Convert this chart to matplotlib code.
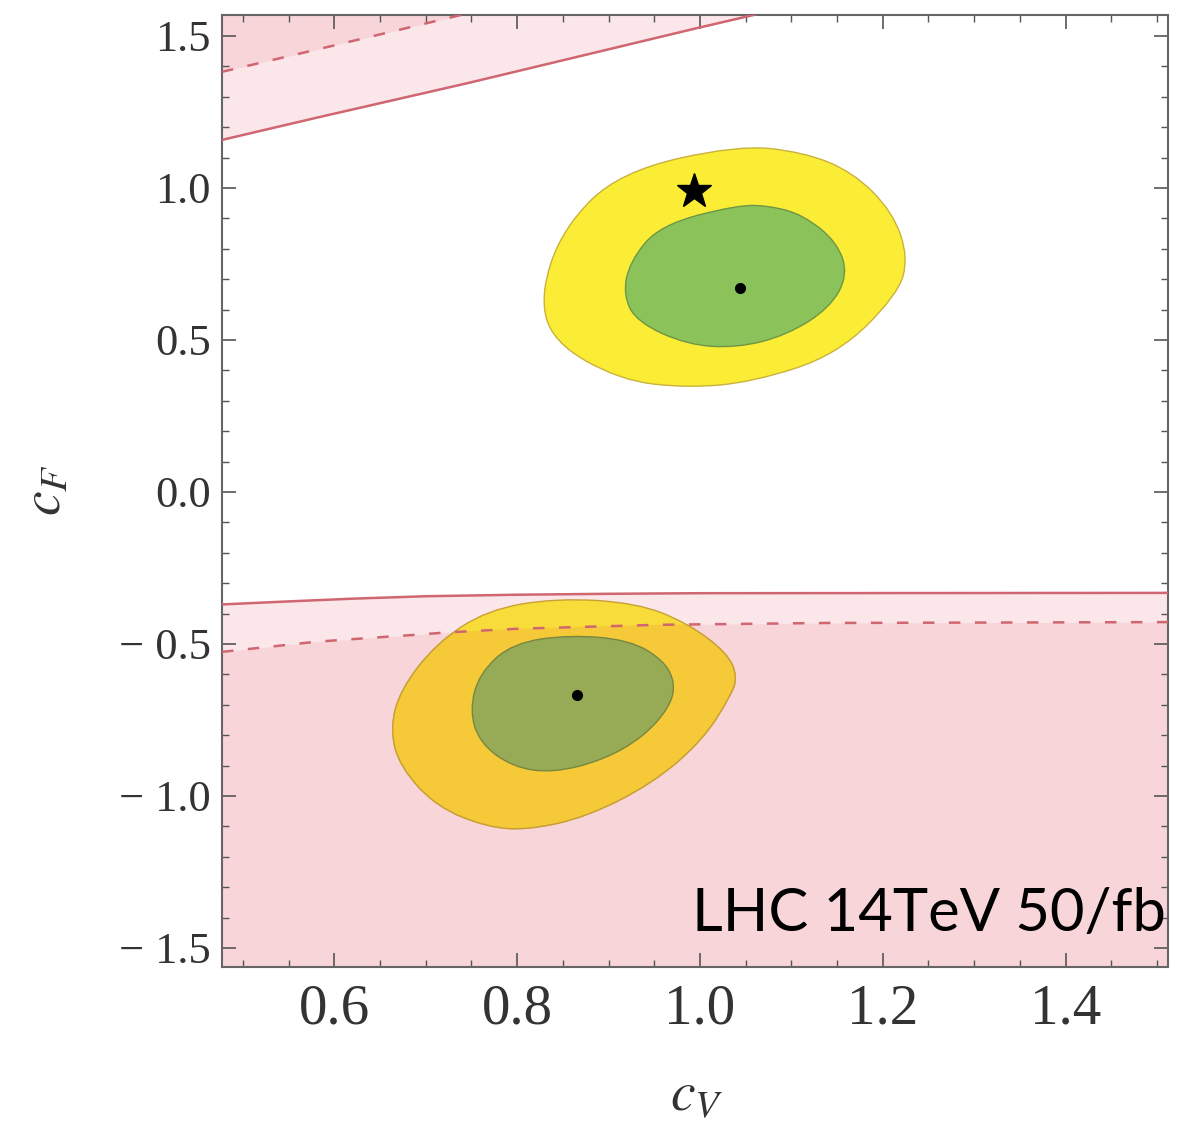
import numpy as np
import matplotlib
matplotlib.use("Agg")
import matplotlib.pyplot as plt
from matplotlib.path import Path
from matplotlib.patches import PathPatch, Polygon
from matplotlib.ticker import FixedLocator, MultipleLocator, FixedFormatter

plt.rcParams['mathtext.fontset'] = 'stix'

# --- data ---
# upper-left excluded region: solid and dashed boundaries
up_solid_x = [0.477, 0.579, 0.746, 0.997, 1.060]
up_solid_y = [1.158, 1.230, 1.345, 1.526, 1.570]
up_dash_x = [0.477, 0.579, 0.740]
up_dash_y = [1.382, 1.454, 1.570]

# lower excluded region: solid and dashed boundaries
low_solid_x = [0.477, 0.550, 0.620, 0.700, 0.800, 0.900, 1.000, 1.512]
low_solid_y = [-0.370, -0.360, -0.351, -0.343, -0.338, -0.335, -0.333, -0.332]
low_dash_x = [0.477, 0.579, 0.639, 0.688, 0.723, 0.800, 0.953, 1.135, 1.512]
low_dash_y = [-0.526, -0.493, -0.480, -0.470, -0.462, -0.450, -0.437, -0.431, -0.428]

# 2 sigma (yellow) and 1 sigma (green) contours, upper minimum
up_2s_x = [1.041, 1.113, 1.167, 1.211, 1.228, 1.216, 1.150, 1.058, 0.986, 0.912, 0.839, 0.825, 0.850, 0.912]
up_2s_y = [1.141, 1.118, 1.053, 0.921, 0.770, 0.648, 0.451, 0.362, 0.342, 0.368, 0.493, 0.648, 0.868, 1.053]
up_1s_x = [1.041, 1.077, 1.113, 1.150, 1.162, 1.142, 1.095, 1.041, 0.986, 0.931, 0.916, 0.923, 0.956]
up_1s_y = [0.944, 0.941, 0.911, 0.822, 0.714, 0.605, 0.516, 0.474, 0.484, 0.559, 0.648, 0.757, 0.878]

# lower minimum
low_2s_x = [0.843, 0.931, 0.986, 1.030, 1.041, 1.033, 1.003, 0.949, 0.876, 0.811, 0.767, 0.712, 0.672, 0.661, 0.672, 0.712, 0.767]
low_2s_y = [-0.349, -0.365, -0.431, -0.530, -0.609, -0.674, -0.816, -0.957, -1.069, -1.112, -1.102, -1.036, -0.905, -0.783, -0.651, -0.497, -0.388]
low_1s_x = [0.858, 0.923, 0.960, 0.973, 0.967, 0.938, 0.894, 0.839, 0.795, 0.759, 0.748, 0.759, 0.795]
low_1s_y = [-0.470, -0.487, -0.553, -0.628, -0.707, -0.806, -0.882, -0.924, -0.905, -0.826, -0.717, -0.595, -0.497]

best_fit_x = [1.044, 0.865]
best_fit_y = [0.671, -0.668]
sm_x = [0.993]
sm_y = [0.990]

xticks = [0.6, 0.8, 1.0, 1.2, 1.4]
xticklabels = ['0.6', '0.8', '1.0', '1.2', '1.4']
yticks = [-1.5, -1.0, -0.5, 0.0, 0.5, 1.0, 1.5]
yticklabels = ['\u2212 1.5', '\u2212 1.0', '\u2212 0.5', '0.0', '0.5', '1.0', '1.5']

XMIN, XMAX = 0.477, 1.512
YMIN, YMAX = -1.5625, 1.569

YELLOW = '#fbed36'
YELLOW_EDGE = '#c9b23a'
GREEN = '#8cc25a'
GREEN_EDGE = '#6c9646'
# contours seen through the pink layers
YELLOW_1 = '#f8dc3a'
YELLOW_2 = '#f6c938'
YELLOW_2_EDGE = '#c8a036'
GREEN_2 = '#97aa55'
GREEN_2_EDGE = '#76873e'
PINK = '#ed96a0'
PINK_LINE = '#cf6670'


def smooth_path(xs, ys):
    # closed quadratic b-spline through the read outline points
    pts = np.column_stack([xs, ys])
    mids = (pts + np.roll(pts, -1, axis=0)) / 2
    verts = [mids[-1]]
    codes = [Path.MOVETO]
    for i in range(len(pts)):
        verts += [pts[i], mids[i]]
        codes += [Path.CURVE3, Path.CURVE3]
    verts.append(mids[-1])
    codes.append(Path.CLOSEPOLY)
    return Path(verts, codes)


fig = plt.figure(figsize=(12.01, 11.27), dpi=100)
ax = fig.add_axes([0.1848, 0.142, 0.7877, 0.8447])

# excluded regions, overlapping translucent layers
ax.fill_between(up_solid_x, up_solid_y, YMAX + 1, color=PINK, alpha=0.22, lw=0, zorder=0.5)
ax.fill_between(up_dash_x, up_dash_y, YMAX + 1, color=PINK, alpha=0.22, lw=0, zorder=0.5)
ax.fill_between(low_solid_x, YMIN - 1, low_solid_y, color=PINK, alpha=0.22, lw=0, zorder=0.5)
ax.fill_between(low_dash_x, YMIN - 1, low_dash_y, color=PINK, alpha=0.22, lw=0, zorder=0.5)

ax.add_patch(PathPatch(smooth_path(up_2s_x, up_2s_y), facecolor=YELLOW, edgecolor=YELLOW_EDGE, lw=1.0, zorder=1))
ax.add_patch(PathPatch(smooth_path(up_1s_x, up_1s_y), facecolor=GREEN, edgecolor=GREEN_EDGE, lw=1.0, zorder=1.1))

low_path = smooth_path(low_2s_x, low_2s_y)
ax.add_patch(PathPatch(low_path, facecolor=YELLOW_1, edgecolor=YELLOW_2_EDGE, lw=1.0, zorder=1))
below_dash = Polygon(list(zip(low_dash_x, low_dash_y)) + [(XMAX, YMIN - 1), (XMIN, YMIN - 1)],
                     closed=True, transform=ax.transData)
p2 = PathPatch(low_path, facecolor=YELLOW_2, edgecolor=YELLOW_2_EDGE, lw=1.0, zorder=1.05)
ax.add_patch(p2)
p2.set_clip_path(below_dash)
ax.add_patch(PathPatch(smooth_path(low_1s_x, low_1s_y), facecolor=GREEN_2, edgecolor=GREEN_2_EDGE, lw=1.0, zorder=1.1))

ax.plot(up_solid_x, up_solid_y, color=PINK_LINE, lw=1.8, zorder=3)
ax.plot(low_solid_x, low_solid_y, color=PINK_LINE, lw=1.8, zorder=3)
ax.plot(up_dash_x, up_dash_y, color=PINK_LINE, lw=1.8, dashes=(4.6, 5.8), zorder=3)
ax.plot(low_dash_x, low_dash_y, color=PINK_LINE, lw=1.8, dashes=(4.6, 5.8), zorder=3)

ax.plot(best_fit_x, best_fit_y, 'o', color='black', ms=7, zorder=4)
ax.plot(sm_x, sm_y, '*', color='black', ms=26, zorder=4)

ax.set_xlim(XMIN, XMAX)
ax.set_ylim(YMIN, YMAX)

ax.xaxis.set_major_locator(FixedLocator(xticks))
ax.xaxis.set_major_formatter(FixedFormatter(xticklabels))
ax.xaxis.set_minor_locator(MultipleLocator(0.05))
ax.yaxis.set_major_locator(FixedLocator(yticks))
ax.yaxis.set_major_formatter(FixedFormatter(yticklabels))
ax.yaxis.set_minor_locator(MultipleLocator(0.1))

ax.tick_params(which='both', direction='in', top=True, right=True, color='#555555')
ax.tick_params(which='major', length=10, width=1.2)
ax.tick_params(which='minor', length=5, width=1.0)
ax.tick_params(axis='x', which='major', pad=12, labelsize=41)
ax.tick_params(axis='y', which='major', pad=8, labelsize=32)
for lab in ax.get_xticklabels() + ax.get_yticklabels():
    lab.set_fontfamily('Liberation Serif')
    lab.set_color('#333333')
for sp in ax.spines.values():
    sp.set_color('#666666')
    sp.set_linewidth(1.5)

fig.text(697 / 1201, 1 - 1095 / 1127, '$c_V$', fontsize=40, ha='center', va='center', color='#333333')
fig.text(45 / 1201, 1 - 490 / 1127, '$c_F$', fontsize=40, ha='center', va='center', rotation=90, color='#333333')

ax.text(1.510, -1.444, 'LHC 14TeV 50/fb', fontsize=43, family='Lato', ha='right', va='baseline',
        color='black', zorder=5)

fig.savefig('out.png', dpi=100)
